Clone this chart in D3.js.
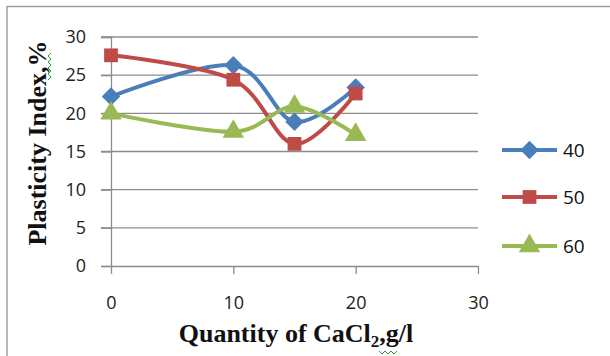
<!DOCTYPE html>
<html>
<head>
<meta charset="UTF-8">
<title>Plasticity Index</title>
<script src="https://d3js.org/d3.v7.min.js"></script>
<style>
body { margin: 0; background: #fff; }
svg { display: block; }
</style>
</head>
<body>
<div id="chart"></div>
<script>
// data
var xValues = [0, 10, 15, 20];
var s40 = [22.2, 26.3, 18.9, 23.4];
var s50 = [27.6, 24.4, 16, 22.6];
var s60 = [20, 17.6, 20.9, 17.2];
var seriesNames = ["40", "50", "60"];
var xTicks = [0, 10, 20, 30];
var yTicks = [0, 5, 10, 15, 20, 25, 30];

var W = 610, H = 356;
var colors = ["#4a7ebb", "#be4b48", "#98b954"];
var tickFont = "'Open Sans', 'DejaVu Sans', sans-serif";

// diamond drawn as a square turned 45 degrees
var diamond = {
  draw: function(ctx, size) {
    var r = Math.sqrt(size / 2);
    ctx.moveTo(0, -r); ctx.lineTo(r, 0); ctx.lineTo(0, r); ctx.lineTo(-r, 0); ctx.closePath();
  }
};
var symbols = [diamond, d3.symbolSquare, d3.symbolTriangle];
var sizes = [170, 190, 200];
var allSeries = [s40, s50, s60];

var svg = d3.select("#chart").append("svg")
  .attr("width", W).attr("height", H);

// outer chart frame
svg.append("rect")
  .attr("x", 7).attr("y", 6.5).attr("width", W).attr("height", H)
  .attr("fill", "none").attr("stroke", "#a0a0a0").attr("stroke-width", 1.5);

var x = d3.scaleLinear().domain([0, 30]).range([111, 478]);
var y = d3.scaleLinear().domain([0, 30]).range([266, 37]);

// gridlines
svg.append("g").selectAll("line")
  .data(yTicks.filter(function(d){ return d > 0; }))
  .enter().append("line")
  .attr("x1", 101).attr("x2", 478)
  .attr("y1", function(d){ return y(d); })
  .attr("y2", function(d){ return y(d); })
  .attr("stroke", "#8c8c8c").attr("stroke-width", 1.3);

// y axis
var yAxis = svg.append("g")
  .attr("transform", "translate(111,0)")
  .call(d3.axisLeft(y).tickValues(yTicks).tickSize(10).tickPadding(15));
yAxis.selectAll("line, path").attr("stroke", "#8c8c8c").attr("stroke-width", 1.3);

// x axis
var xAxis = svg.append("g")
  .attr("transform", "translate(0,266)")
  .call(d3.axisBottom(x).tickValues(xTicks).tickSize(8).tickSizeOuter(0).tickPadding(22));
xAxis.selectAll("line, path").attr("stroke", "#8c8c8c").attr("stroke-width", 1.3);

svg.selectAll(".tick text")
  .attr("font-family", tickFont).attr("font-size", 18).attr("fill", "#222");

// lines (smoothed like the original)
var line = d3.line()
  .x(function(d){ return x(d[0]); })
  .y(function(d){ return y(d[1]); })
  .curve(d3.curveCardinal.tension(0));

allSeries.forEach(function(vals, i) {
  var pts = xValues.map(function(xv, j){ return [xv, vals[j]]; });
  svg.append("path")
    .datum(pts)
    .attr("d", line)
    .attr("fill", "none")
    .attr("stroke", colors[i])
    .attr("stroke-width", 4)
    .attr("stroke-linejoin", "round");
});

var sym = d3.symbol();
allSeries.forEach(function(vals, i) {
  svg.append("g").selectAll("path")
    .data(vals)
    .enter().append("path")
    .attr("transform", function(d, j){ return "translate(" + x(xValues[j]) + "," + y(d) + ")"; })
    .attr("d", sym.type(symbols[i]).size(sizes[i]))
    .attr("fill", colors[i]);
});

// legend
var legendY = [150, 197, 246];
seriesNames.forEach(function(name, i) {
  var g = svg.append("g").attr("transform", "translate(0," + legendY[i] + ")");
  g.append("line").attr("x1", 502).attr("x2", 557)
    .attr("stroke", colors[i]).attr("stroke-width", 4);
  g.append("path").attr("transform", "translate(529.5,0)")
    .attr("d", sym.type(symbols[i]).size(sizes[i])).attr("fill", colors[i]);
  g.append("text").attr("x", 563).attr("y", 7)
    .attr("font-family", tickFont)
    .attr("font-size", 19).attr("fill", "#111").text(name);
});

// axis titles
svg.append("text")
  .attr("transform", "translate(46,143) rotate(-90)")
  .attr("text-anchor", "middle")
  .attr("font-family", "'Liberation Serif', serif")
  .attr("font-weight", "bold").attr("font-size", 26)
  .attr("fill", "#111")
  .text("Plasticity Index,%");

var xt = svg.append("text")
  .attr("x", 296).attr("y", 342)
  .attr("text-anchor", "middle")
  .attr("font-family", "'Liberation Serif', serif")
  .attr("font-weight", "bold").attr("font-size", 26)
  .attr("fill", "#111");
xt.append("tspan").text("Quantity of CaCl");
xt.append("tspan").attr("font-size", 17).attr("dy", 5).text("2");
xt.append("tspan").attr("dy", -5).text(",g/l");

// spell-check squiggles seen in the original
var squiggle = function(x0, y0, n, vertical) {
  var pts = d3.range(n + 1).map(function(k) {
    var a = k * 3, b = (k % 2) ? 2 : -1;
    return vertical ? [x0 + b, y0 - a] : [x0 + a, y0 + b];
  });
  svg.append("path").attr("d", d3.line()(pts))
    .attr("fill", "none").attr("stroke", "#2e9c2e").attr("stroke-width", 1);
};
squiggle(49, 80, 9, true);
squiggle(379, 352, 6, false);
</script>
</body>
</html>
